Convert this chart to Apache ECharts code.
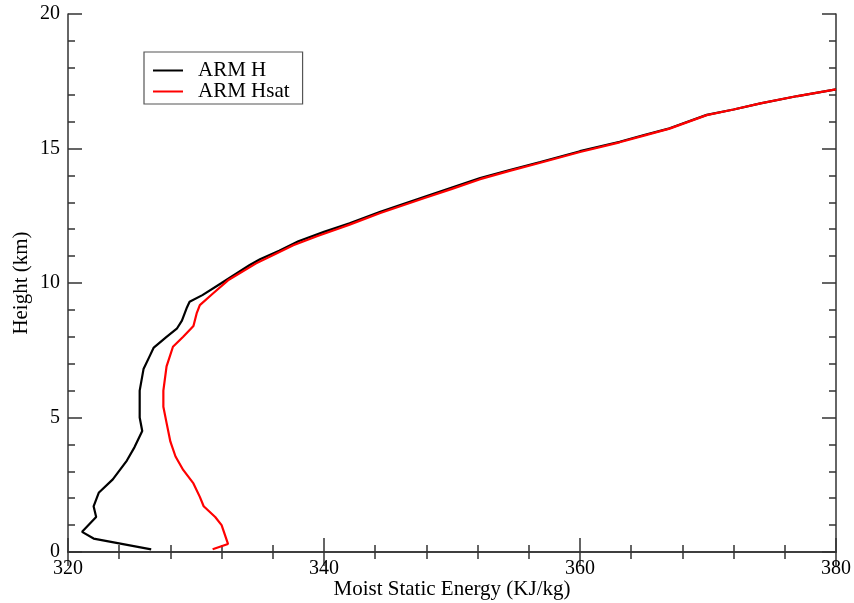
<!DOCTYPE html>
<html><head><meta charset="utf-8">
<script src="https://cdn.jsdelivr.net/npm/echarts@6/dist/echarts.min.js"></script>
<style>html,body{margin:0;padding:0;background:#fff}#c{width:854px;height:603px}</style>
</head><body><div id="c"></div>
<script>
const seriesNames = ['ARM H', 'ARM Hsat'];
const hEnergy = [326.5, 322.0, 321.1, 322.2, 322.0, 322.4, 323.5, 324.6, 325.2, 325.8, 325.6, 325.6, 325.9, 326.4, 326.7, 327.7, 328.5, 328.9, 329.3, 329.5, 330.5, 332.0, 334.2, 335.0, 336.5, 338.0, 340.0, 342.0, 344.4, 347.8, 350.0, 352.2, 354.5, 356.9, 360.0, 363.1, 365.0, 367.0, 369.9, 372.0, 374.1, 377.0, 380.0];
const hHeight = [0.1, 0.5, 0.75, 1.3, 1.7, 2.2, 2.7, 3.4, 3.9, 4.5, 5.0, 6.0, 6.8, 7.3, 7.6, 8.0, 8.3, 8.6, 9.1, 9.3, 9.55, 10.0, 10.67, 10.88, 11.2, 11.55, 11.9, 12.22, 12.65, 13.2, 13.55, 13.9, 14.2, 14.5, 14.9, 15.25, 15.5, 15.75, 16.25, 16.45, 16.68, 16.95, 17.2];
const hsatEnergy = [331.3, 332.5, 332.0, 331.5, 330.6, 330.3, 329.8, 329.0, 328.4, 328.0, 327.7, 327.45, 327.45, 327.7, 328.2, 329.0, 329.8, 330.05, 330.3, 331.3, 332.5, 334.7, 336.2, 337.6, 339.5, 341.0, 342.0, 344.4, 347.8, 350.0, 352.2, 354.5, 356.9, 360.0, 363.1, 365.0, 367.0, 369.9, 372.0, 374.1, 377.0, 380.0];
const hsatHeight = [0.1, 0.3, 1.0, 1.3, 1.7, 2.05, 2.55, 3.05, 3.55, 4.1, 4.8, 5.4, 6.0, 6.9, 7.63, 8.0, 8.4, 8.87, 9.18, 9.6, 10.1, 10.73, 11.08, 11.4, 11.75, 12.0, 12.17, 12.6, 13.15, 13.5, 13.86, 14.17, 14.47, 14.87, 15.23, 15.48, 15.74, 16.24, 16.45, 16.68, 16.95, 17.2];
const xTicks = [320, 340, 360, 380];
const yTicks = [0, 5, 10, 15, 20];

const font = 'Liberation Serif';
const pair = (xs, ys) => xs.map((v, i) => [v, ys[i]]);
const axisLine = {show: true, lineStyle: {color: '#333', width: 1.5}};
const tick = {show: true, inside: true, length: 14, lineStyle: {color: '#333', width: 1.5}};
const minor = {show: true, splitNumber: 5, length: 7, lineStyle: {color: '#333', width: 1.5}};
const xBase = {type: 'value', min: xTicks[0], max: xTicks[xTicks.length-1], interval: 20,
  axisLine, axisTick: tick, minorTick: minor, splitLine: {show: false}};
const yBase = {type: 'value', min: yTicks[0], max: yTicks[yTicks.length-1], interval: 5,
  axisLine, axisTick: tick, minorTick: minor, splitLine: {show: false}};

const chart = echarts.init(document.getElementById('c'));
chart.setOption({
  animation: false,
  backgroundColor: '#fff',
  grid: {left: 68, right: 18, top: 14, bottom: 51, containLabel: false, outerBoundsMode: 'none'},
  legend: {
    orient: 'vertical', left: 144, top: 52,
    data: seriesNames,
    icon: 'rect', itemWidth: 30, itemHeight: 2, itemGap: 0,
    padding: [8, 13, 2, 9],
    borderColor: '#555', borderWidth: 1.2,
    textStyle: {fontFamily: font, fontSize: 21, lineHeight: 21, color: '#000', padding: [0, 0, 0, 10]}
  },
  xAxis: [
    Object.assign({}, xBase, {position: 'bottom',
      name: 'Moist Static Energy (KJ/kg)', nameLocation: 'middle', nameGap: 27, nameMoveOverlap: false,
      nameTextStyle: {fontFamily: font, fontSize: 21, color: '#000'},
      axisLabel: {fontFamily: font, fontSize: 20, color: '#000', margin: 7}}),
    Object.assign({}, xBase, {position: 'top', axisLabel: {show: false}})
  ],
  yAxis: [
    Object.assign({}, yBase, {position: 'left',
      name: 'Height (km)', nameLocation: 'middle', nameGap: 36, nameMoveOverlap: false,
      nameTextStyle: {fontFamily: font, fontSize: 21, color: '#000'},
      axisLabel: {fontFamily: font, fontSize: 20, color: '#000', margin: 8}}),
    Object.assign({}, yBase, {position: 'right', axisLabel: {show: false}})
  ],
  series: [
    {name: seriesNames[0], type: 'line', data: pair(hEnergy, hHeight), showSymbol: false,
     lineStyle: {color: '#000', width: 2.2}, itemStyle: {color: '#000'}, z: 3},
    {name: seriesNames[1], type: 'line', data: pair(hsatEnergy, hsatHeight), showSymbol: false,
     lineStyle: {color: '#ff0000', width: 2.2}, itemStyle: {color: '#ff0000'}, z: 4}
  ]
});
</script></body></html>
